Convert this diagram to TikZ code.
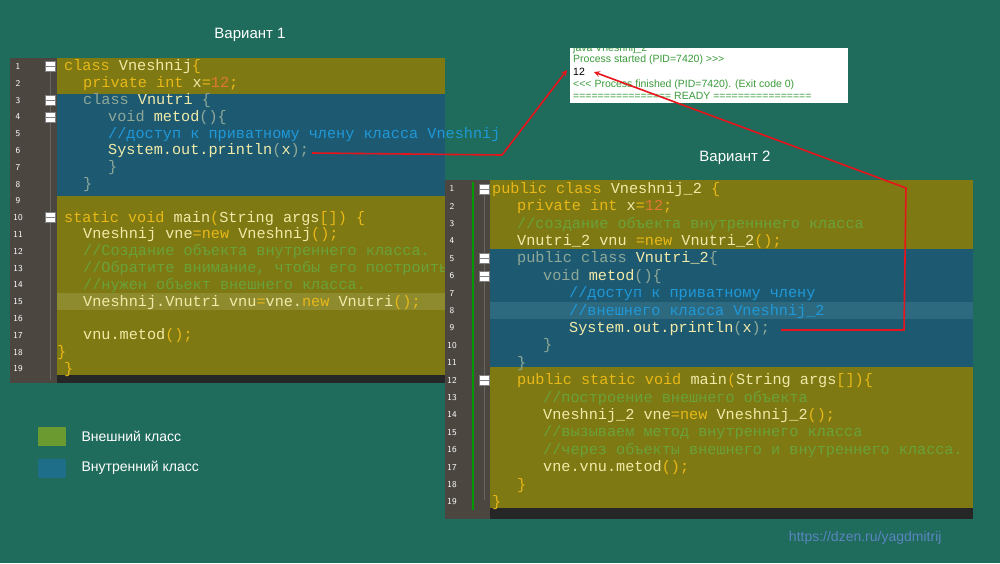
\documentclass[tikz,border=0pt]{standalone}
\usepackage{fontspec}
\setmainfont{Liberation Sans}
\newfontfamily\monof{Liberation Mono}
\definecolor{bg}{HTML}{1F6B5C}
\definecolor{olv}{HTML}{7E7913}
\definecolor{olvh}{HTML}{8E8A2E}
\definecolor{blu}{HTML}{1D5A72}
\definecolor{bluh}{HTML}{2D6A80}
\definecolor{gut}{HTML}{4B4640}
\definecolor{ckw}{HTML}{E8B818}
\definecolor{cid}{HTML}{F2EAA8}
\definecolor{ccm}{HTML}{6AA23A}
\definecolor{cbc}{HTML}{2098D8}
\definecolor{cnm}{HTML}{E07830}
\definecolor{cdim}{HTML}{8FA898}
\definecolor{arr}{HTML}{E8141C}
\definecolor{outg}{HTML}{3A9A3A}
\definecolor{legg}{HTML}{6A9A30}
\definecolor{legb}{HTML}{1E6E8A}
\definecolor{wm}{HTML}{5A86C0}
\newcommand\K[1]{\textcolor{ckw}{#1}}
\newcommand\I[1]{\textcolor{cid}{#1}}
\newcommand\C[1]{\textcolor{ccm}{#1}}
\newcommand\B[1]{\textcolor{cbc}{#1}}
\newcommand\N[1]{\textcolor{cnm}{#1}}
\newcommand\D[1]{\textcolor{cdim}{#1}}
\tikzset{code/.style={anchor=base west,inner sep=0pt,font=\monof\fontsize{15.2}{16}\selectfont},
 lnum/.style={anchor=base,inner sep=0pt,font=\sffamily\fontsize{9}{10}\selectfont,text=white},
 fold/.style={draw=gray,fill=white,minimum size=10pt,inner sep=0pt,path picture={\draw[gray] (path picture bounding box.west)--(path picture bounding box.east);}},
 title/.style={font=\fontsize{15}{18}\selectfont,text=white},
 redl/.style={draw=arr,line width=1.6pt},
 outt/.style={anchor=base west,inner sep=0pt,font=\fontsize{10.5}{12}\selectfont,text=outg},
 leg/.style={font=\fontsize{14}{17}\selectfont,text=white,anchor=west}}
\newcommand\Lrow[3]{\node[code] at (#1,{58+(#2-0.5)*16.8+4.5}) {#3};}
\newcommand\Rrow[3]{\node[code] at (#1,{180+(#2-0.5)*17.4+4.5}) {#3};}
\begin{document}
\begin{tikzpicture}[x=1pt,y=-1pt]
\useasboundingbox (0,0) rectangle (1000,563);
\fill[bg] (0,0) rectangle (1000,563);
% ---------- left panel
\fill[gut] (10,58) rectangle (57,383);
\fill[olv] (57,58) rectangle (445,94);
\fill[blu] (57,94) rectangle (445,196);
\fill[olv] (57,196) rectangle (445,375);
\fill[olvh] (57,{58+14*16.8}) rectangle (445,{58+15*16.8});
\fill[black!85] (57,375) rectangle (445,383);
\draw[black!60] (50,70) -- (50,380);
\foreach \i in {1,...,19} \node[lnum] at (18,{58+(\i-0.5)*16.8+3}) {\i};
\foreach \i in {1,3,4,10} \node[fold] at (50,{58+(\i-0.5)*16.8}) {};
\begin{scope}\clip (57,58) rectangle (445,383);
\Lrow{64}{1}{\K{class} \I{Vneshnij}\K{\{}}
\Lrow{83}{2}{\K{private int} \I{x}\K{=}\N{12}\K{;}}
\Lrow{83}{3}{\D{class} \I{Vnutri} \D{\{}}
\Lrow{108}{4}{\D{void} \I{metod}\D{()\{}}
\Lrow{108}{6}{\I{System.out.println}\D{(}\I{x}\D{);}}
\Lrow{108}{7}{\D{\}}}
\Lrow{83}{8}{\D{\}}}
\Lrow{64}{10}{\K{static void} \I{main}\K{(}\I{String args}\K{[]) \{}}
\Lrow{83}{11}{\I{Vneshnij vne}\K{=new} \I{Vneshnij}\K{();}}
\Lrow{83}{12}{\C{//Создание объекта внутреннего класса.}}
\Lrow{83}{13}{\C{//Обратите внимание, чтобы его построить}}
\Lrow{83}{14}{\C{//нужен объект внешнего класса.}}
\Lrow{83}{15}{\I{Vneshnij.Vnutri vnu}\K{=}\I{vne.}\K{new} \I{Vnutri}\K{();}}
\Lrow{83}{17}{\I{vnu.metod}\K{();}}
\Lrow{57}{18}{\K{\}}}
\Lrow{64}{19}{\K{\}}}
\end{scope}
\Lrow{108}{5}{\B{//доступ к приватному члену класса Vneshnij}}
% ---------- right panel
\fill[gut] (445,180) rectangle (490,519);
\fill[olv] (490,180) rectangle (973,249);
\fill[blu] (490,249) rectangle (973,367);
\fill[bluh] (490,{180+7*17.4}) rectangle (973,{180+8*17.4});
\fill[olv] (490,367) rectangle (973,508);
\fill[black!85] (490,508) rectangle (973,519);
\draw[green!60!black,line width=1.5pt] (473,182) -- (473,510);
\draw[black!60] (484,190) -- (484,500);
\foreach \i in {1,...,19} \node[lnum] at (452,{180+(\i-0.5)*17.4+3}) {\i};
\foreach \i in {1,5,6,12} \node[fold] at (484,{180+(\i-0.5)*17.4}) {};
\Rrow{492}{1}{\K{public class} \I{Vneshnij\_2} \K{\{}}
\Rrow{517}{2}{\K{private int} \I{x}\K{=}\N{12}\K{;}}
\Rrow{517}{3}{\C{//создание объекта внутренннего класса}}
\Rrow{517}{4}{\I{Vnutri\_2 vnu} \K{=new} \I{Vnutri\_2}\K{();}}
\Rrow{517}{5}{\D{public class} \I{Vnutri\_2}\D{\{}}
\Rrow{543}{6}{\D{void} \I{metod}\D{()\{}}
\Rrow{569}{7}{\B{//доступ к приватному члену}}
\Rrow{569}{8}{\B{//внешнего класса Vneshnij\_2}}
\Rrow{569}{9}{\I{System.out.println}\D{(}\I{x}\D{);}}
\Rrow{543}{10}{\D{\}}}
\Rrow{517}{11}{\D{\}}}
\Rrow{517}{12}{\K{public static void} \I{main}\K{(}\I{String args}\K{[])\{}}
\Rrow{543}{13}{\C{//построение внешнего объекта}}
\Rrow{543}{14}{\I{Vneshnij\_2 vne}\K{=new} \I{Vneshnij\_2}\K{();}}
\Rrow{543}{15}{\C{//вызываем метод внутреннего класса}}
\Rrow{543}{16}{\C{//через объекты внешнего и внутреннего класса.}}
\Rrow{543}{17}{\I{vne.vnu.metod}\K{();}}
\Rrow{517}{18}{\K{\}}}
\Rrow{492}{19}{\K{\}}}
% ---------- output box
\fill[white] (570,48) rectangle (848,103);
\begin{scope}\clip (570,48) rectangle (848,103);
\node[outt] at (573,51) {java Vneshnij\_2};
\end{scope}
\node[outt] (ps) at (573,62) {Process started (PID=7420) {>}{>}{>}};
\node[outt,text=black] (twelve) at (573,75) {12};
\node[outt] (pf) at (573,87) {{<}{<}{<} Process finished (PID=7420). (Exit code 0)};
\node[outt] (rd) at (573,99) {================ READY ================};
% ---------- arrows
\coordinate (s1) at (312,153);
\coordinate (s2) at (781,330);
\draw[redl,-stealth] (s1) -- (502,155) -- (567,70);
\draw[redl,-stealth] (s2) -- (904,330) -- (906,188) -- (594,72);
% ---------- titles & legend
\node[title] (t1) at (250,35) {Вариант 1};
\node[title] (t2) at (735,158) {Вариант 2};
\fill[legg] (38,427) rectangle (66,446);
\fill[legb] (38,459) rectangle (66,478);
\node[leg] (l1) at (78,436) {Внешний класс};
\node[leg] (l2) at (78,468) {Внутренний класс};
\node[font=\fontsize{14}{17}\selectfont,text=wm,anchor=east] (w) at (945,538) {https://dzen.ru/yagdmitrij};
\end{tikzpicture}
\end{document}
